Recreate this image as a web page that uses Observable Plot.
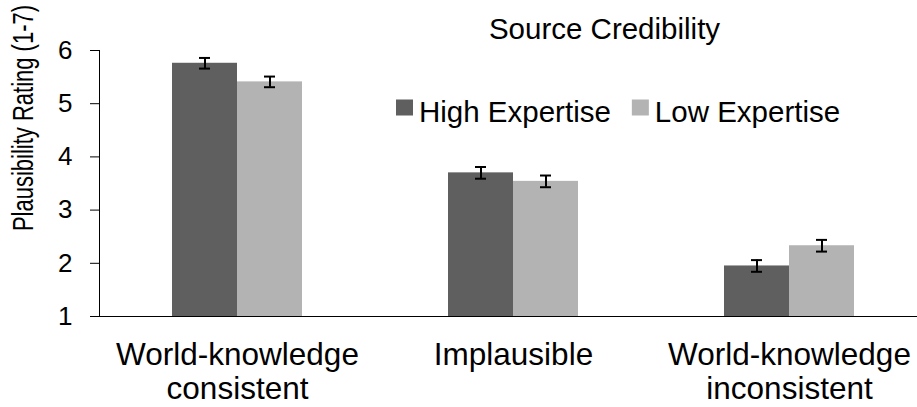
<!DOCTYPE html>
<html><head><meta charset="utf-8">
<script src="https://cdn.jsdelivr.net/npm/d3@7"></script>
<script src="https://cdn.jsdelivr.net/npm/@observablehq/plot@0.6"></script>
<style>
body{margin:0;background:#fff;}
#chart{position:relative;width:917px;height:407px;font-family:"Liberation Sans",Arial,sans-serif;}
</style></head><body><div id="chart"></div>
<script>
const categories = ["World-knowledge consistent", "Implausible", "World-knowledge inconsistent"];
const categoryLabels = ["World-knowledge\nconsistent", "Implausible", "World-knowledge\ninconsistent"];
const series = ["High Expertise", "Low Expertise"];
const colors = ["#5f5f5f", "#b3b3b3"];
const highValues = [5.76, 3.70, 1.95];
const lowValues = [5.41, 3.54, 2.33];
const highErrors = [0.10, 0.11, 0.11];
const lowErrors = [0.10, 0.11, 0.11];
const yTicks = [1, 2, 3, 4, 5, 6];
const yTitle = "Plausibility Rating (1-7)";
const legendTitle = "Source Credibility";

const FONT = "'Liberation Sans', Arial, sans-serif";
const data = [];
categories.forEach((c, i) => {
  data.push({cat: c, series: series[0], value: highValues[i], err: highErrors[i]});
  data.push({cat: c, series: series[1], value: lowValues[i], err: lowErrors[i]});
});
const yMin = yTicks[0];

const plot = Plot.plot({
  width: 917, height: 407,
  marginTop: 50, marginBottom: 91, marginLeft: 99, marginRight: 0,
  style: {fontFamily: FONT, fontSize: "26px", color: "#000", background: "transparent", overflow: "visible"},
  fx: {domain: categories, range: [99, 927], padding: 0, axis: null, label: null},
  x: {domain: series, paddingInner: 0, paddingOuter: 1.1, axis: null, label: null},
  y: {domain: [yTicks[0], yTicks[yTicks.length - 1]], ticks: yTicks, tickSize: 9, tickPadding: 18, line: true, label: null, tickFormat: d => String(d)},
  color: {domain: series, range: colors},
  marks: [
    Plot.barY(data, {fx: "cat", x: "series", y1: yMin, y2: "value", fill: "series"}),
    Plot.ruleX(data, {fx: "cat", x: "series", y1: d => d.value - d.err, y2: d => d.value + d.err, stroke: "#000", strokeWidth: 2}),
    Plot.tickY(data, {fx: "cat", x: "series", y: d => d.value + d.err, stroke: "#000", strokeWidth: 2, insetLeft: 27, insetRight: 27}),
    Plot.tickY(data, {fx: "cat", x: "series", y: d => d.value - d.err, stroke: "#000", strokeWidth: 2, insetLeft: 27, insetRight: 27}),
    Plot.ruleY([yMin], {stroke: "#000", strokeWidth: 1}),
    Plot.text(categories, {fx: d => d, text: d => categoryLabels[categories.indexOf(d)], frameAnchor: "bottom", lineAnchor: "top", dy: 24, fontSize: 31.5, lineHeight: 1.08, fill: "#000"})
  ]
});
document.getElementById("chart").appendChild(plot);

const svg = d3.select(plot);
svg.selectAll('g[aria-label^="y-axis"] text').style("font-size", "26px");
// y-axis title
svg.append("text")
  .attr("transform", "translate(33,118) rotate(-90) scale(1,1.35)")
  .attr("text-anchor", "middle")
  .style("font-family", FONT).style("font-size", "22px").attr("fill", "#000")
  .text(yTitle);
// legend title
svg.append("text")
  .attr("x", 604.5).attr("y", 39)
  .attr("text-anchor", "middle")
  .style("font-family", FONT).style("font-size", "29.5px").attr("fill", "#000")
  .text(legendTitle);
// legend entries
let lx = 396;
series.forEach((s, i) => {
  svg.append("rect").attr("x", lx).attr("y", 99.5).attr("width", 17).attr("height", 16).attr("fill", colors[i]);
  const t = svg.append("text").attr("x", lx + 23).attr("y", 121.5)
    .attr("text-anchor", "start")
    .style("font-family", FONT).style("font-size", "29.5px").attr("fill", "#000").text(s);
  lx = lx + 23 + t.node().getComputedTextLength() + 21;
});
</script>
</body></html>
